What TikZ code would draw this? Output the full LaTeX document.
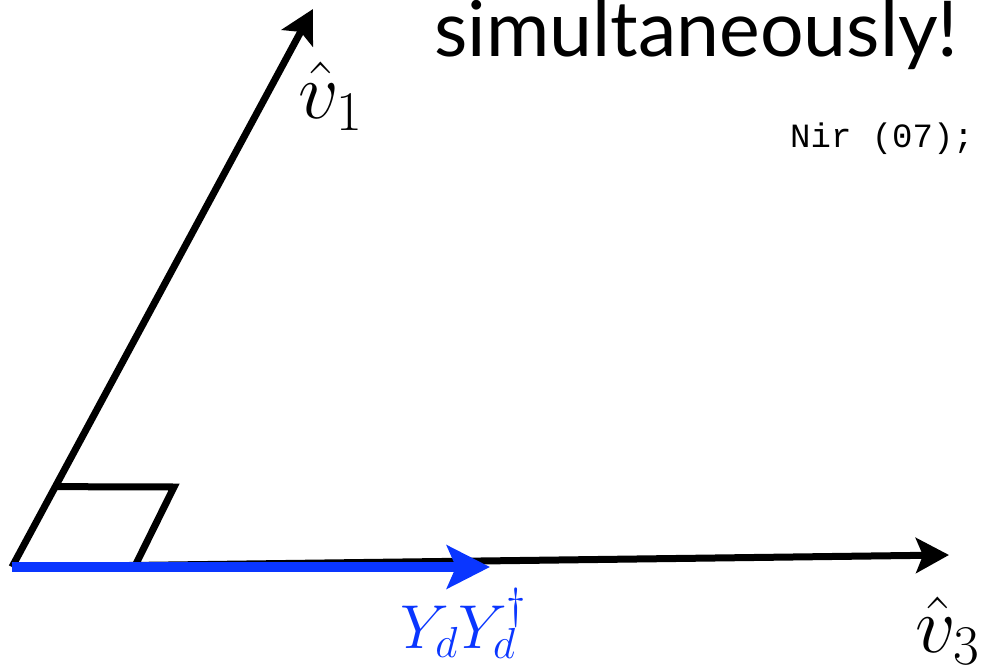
\documentclass[tikz,border=0pt]{standalone}
\usepackage{fix-cm}
\usepackage{fontspec}
\newfontfamily\headfont{Lato}
\setmonofont{Liberation Mono}
\usetikzlibrary{arrows.meta, calc}
\definecolor{vecBlue}{HTML}{0A36FF}
\tikzset{
  vec/.style={line width=7pt, -{Stealth[length=33pt, width=35pt, inset=7pt]}},
  proj/.style={line width=10pt, draw=vecBlue, -{Stealth[length=43pt, width=43pt, inset=9pt]}},
  corner/.style={line width=7pt},
  lbl/.style={inner sep=0pt, anchor=base west, font=\fontsize{80}{90}\selectfont},
}

\begin{document}
\begin{tikzpicture}[x=1pt, y=-1pt]
\useasboundingbox (0,0) rectangle (986,669);
\coordinate (o) at (12,567);
\coordinate (t1) at (313,9);
\coordinate (t3) at (949,555);
\coordinate (ty) at (490,567);
\coordinate (s1) at ($(o)!0.144!(t1)$);
\coordinate (s2) at (174,487);
\coordinate (s3) at (135,566);

\draw[vec] (o) -- (t1);
\draw[vec] (o) -- (t3);
\draw[corner] (s1) -- (s2) -- (s3);
\draw[proj] (o) -- (ty);

\node[lbl] (v1) at (298,118) {$\hat{v}_1$};
\node[lbl] (v3) at (915,652) {$\hat{v}_3$};
\node[lbl, text=vecBlue, font=\fontsize{62}{70}\selectfont] (yd) at (400,648) {$Y_dY_d^\dagger$};
\node[inner sep=0pt, anchor=base west, font=\headfont\fontsize{77}{86}\selectfont] (head) at (434,57) {simultaneously!};
\node[inner sep=0pt, anchor=base west, font=\ttfamily\fontsize{34}{40}\selectfont] (cite) at (790,147) {Nir (07);};
\end{tikzpicture}
\end{document}
